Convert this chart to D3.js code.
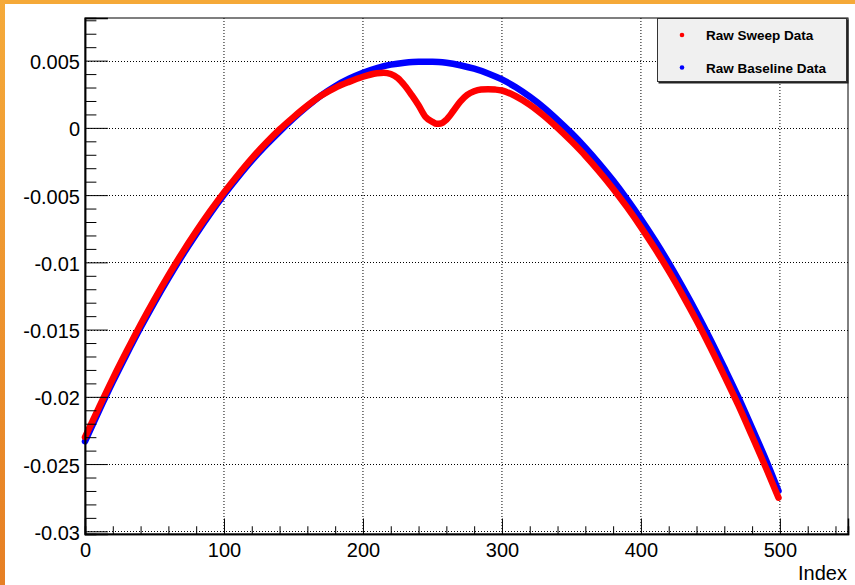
<!DOCTYPE html>
<html>
<head>
<meta charset="utf-8">
<script src="https://cdn.jsdelivr.net/npm/d3@7"></script>
<style>
  html, body { margin: 0; padding: 0; background: #fff; }
  svg { display: block; }
  text { font-family: "Liberation Sans", Arial, Helvetica, sans-serif; }
</style>
</head>
<body>
<svg id="chart" width="855" height="585"></svg>
<script>
// Baseline scan (blue): sample index and signal value
const baselineIndex = [0,10,20,30,40,50,60,70,80,90,100,110,120,130,140,150,160,170,180,190,200,210,220,230,240,250,260,270,280,290,300,310,320,330,340,350,360,370,380,390,400,410,420,430,440,450,460,470,480,490,499];
const baselineValues = [-0.02331,-0.02106,-0.01889,-0.01683,-0.01485,-0.01297,-0.01119,-0.00949,-0.00790,-0.00639,-0.00498,-0.00367,-0.00244,-0.00132,-0.00028,0.00070,0.00160,0.00242,0.00310,0.00365,0.00410,0.00445,0.00470,0.00485,0.00492,0.00492,0.00484,0.00466,0.00440,0.00405,0.00360,0.00302,0.00232,0.00152,0.00060,-0.00039,-0.00147,-0.00265,-0.00392,-0.00530,-0.00678,-0.00836,-0.01004,-0.01184,-0.01373,-0.01573,-0.01784,-0.02001,-0.02233,-0.02469,-0.02700];

// Sweep scan (red): sample index and signal value, with the absorption dip near 250
const sweepIndex = [0,10,20,30,40,50,60,70,80,90,100,110,120,130,140,150,160,170,180,190,200,205,210,215,220,225,230,235,240,245,250,253,256,260,265,270,275,280,285,290,295,300,310,320,330,340,350,360,370,380,390,400,410,420,430,440,450,460,470,480,490,499];
const sweepValues = [-0.02300,-0.02080,-0.01865,-0.01660,-0.01462,-0.01275,-0.01097,-0.00928,-0.00770,-0.00620,-0.00480,-0.00350,-0.00227,-0.00115,-0.00012,0.00080,0.00165,0.00240,0.00298,0.00342,0.00380,0.00395,0.00406,0.00410,0.00400,0.00370,0.00315,0.00245,0.00168,0.00082,0.00045,0.00030,0.00032,0.00060,0.00125,0.00195,0.00245,0.00272,0.00285,0.00288,0.00285,0.00278,0.00235,0.00172,0.00092,0.00000,-0.00100,-0.00207,-0.00325,-0.00452,-0.00590,-0.00738,-0.00896,-0.01064,-0.01244,-0.01433,-0.01633,-0.01844,-0.02060,-0.02293,-0.02529,-0.02750];

// Axis ticks
const xMajorTicks = [0,100,200,300,400,500];
const yMajorTicks = [0.005,0,-0.005,-0.01,-0.015,-0.02,-0.025,-0.03];
const xTitle = "Index";

const legendEntries = [
  { label: "Raw Sweep Data", color: "#ff0000" },
  { label: "Raw Baseline Data", color: "#0000ff" }
];

const svg = d3.select("#chart");

// Canvas frame: orange edge along top and left
const defs = svg.append("defs");
const grad = defs.append("linearGradient").attr("id", "edgeGrad")
  .attr("x1", 0).attr("y1", 0).attr("x2", 0).attr("y2", 1);
grad.append("stop").attr("offset", "0%").attr("stop-color", "#f5aa3a");
grad.append("stop").attr("offset", "100%").attr("stop-color", "#e67f24");
svg.append("rect").attr("x", 0).attr("y", 0).attr("width", 855).attr("height", 4).attr("fill", "#f5a938");
svg.append("rect").attr("x", 0).attr("y", 0).attr("width", 5).attr("height", 585).attr("fill", "url(#edgeGrad)");

const plot = { left: 85, right: 848, top: 18, bottom: 534 };

const x = d3.scaleLinear().domain([0, 549]).range([plot.left, plot.right]);
const y = d3.scaleLinear().domain([-0.0302, 0.00817]).range([plot.bottom, plot.top]);

const fmt = d => String(+d.toFixed(4));

// Dotted grid
const grid = svg.append("g").attr("stroke", "#000").attr("stroke-width", 1)
  .attr("stroke-dasharray", "1,2").attr("fill", "none");
xMajorTicks.filter(t => t > 0).forEach(t => {
  grid.append("line").attr("x1", x(t)).attr("x2", x(t))
    .attr("y1", plot.top).attr("y2", plot.bottom);
});
yMajorTicks.forEach(t => {
  grid.append("line").attr("x1", plot.left).attr("x2", plot.right)
    .attr("y1", Math.round(y(t)) + 0.5).attr("y2", Math.round(y(t)) + 0.5);
});

// Data curves
const lineOf = (idx, vals) => d3.line()
  .x((d, i) => x(idx[i]))
  .y(d => y(d))
  .curve(d3.curveMonotoneX)(vals);

svg.append("path").attr("d", lineOf(baselineIndex, baselineValues))
  .attr("fill", "none").attr("stroke", "#0000ff").attr("stroke-width", 6.5)
  .attr("stroke-linecap", "round").attr("stroke-linejoin", "round");
svg.append("path").attr("d", lineOf(sweepIndex, sweepValues))
  .attr("fill", "none").attr("stroke", "#ff0000").attr("stroke-width", 6.5)
  .attr("stroke-linecap", "round").attr("stroke-linejoin", "round");

// Frame
svg.append("rect").attr("x", plot.left).attr("y", plot.top)
  .attr("width", plot.right - plot.left).attr("height", plot.bottom - plot.top)
  .attr("fill", "none").attr("stroke", "#000").attr("stroke-width", 1);

// Y axis: major and minor ticks pointing inward
const yMinor = d3.range(-30, 9).map(v => v / 1000).filter(v => yMajorTicks.every(t => Math.abs(t - v) > 1e-9));
const yAxisG = svg.append("g").attr("transform", `translate(${plot.left},0)`);
yAxisG.call(d3.axisLeft(y).tickValues(yMajorTicks).tickSize(-22.9).tickPadding(5).tickFormat(fmt));
const yMinorG = svg.append("g").attr("transform", `translate(${plot.left},0)`);
yMinorG.call(d3.axisLeft(y).tickValues(yMinor).tickSize(-11.4).tickFormat(""));

// X axis
const xMinor = d3.range(20, 549, 20).filter(v => v % 100 !== 0);
const xAxisG = svg.append("g").attr("transform", `translate(0,${plot.bottom})`);
xAxisG.call(d3.axisBottom(x).tickValues(xMajorTicks).tickSize(-15.5).tickPadding(9).tickFormat(fmt));
const xMinorG = svg.append("g").attr("transform", `translate(0,${plot.bottom})`);
xMinorG.call(d3.axisBottom(x).tickValues(xMinor).tickSize(-7.75).tickFormat(""));

[yAxisG, yMinorG, xAxisG, xMinorG].forEach(g => {
  g.selectAll(".domain").attr("stroke", "#000").attr("stroke-width", 1.5);
  g.selectAll(".tick line").attr("stroke", "#000").attr("stroke-width", 1);
  g.selectAll("text").attr("fill", "#000").style("font-size", "20px")
    .style("font-family", "'Liberation Sans', Arial, Helvetica, sans-serif");
});
yAxisG.selectAll("text").attr("dy", "0.4em");

svg.append("text").attr("x", plot.right - 1).attr("y", 580)
  .attr("text-anchor", "end").style("font-size", "20px").attr("fill", "#000")
  .text(xTitle);

// Legend
const leg = svg.append("g");
leg.append("rect").attr("x", 658.5).attr("y", 19.5).attr("width", 190).attr("height", 64)
  .attr("fill", "#222");
leg.append("rect").attr("x", 657.5).attr("y", 18.5).attr("width", 189).attr("height", 63)
  .attr("fill", "#f0f0f0").attr("stroke", "#333").attr("stroke-width", 1);
legendEntries.forEach((e, i) => {
  const cy = 35 + i * 32.5;
  leg.append("circle").attr("cx", 682).attr("cy", cy).attr("r", 2.3).attr("fill", e.color);
  leg.append("text").attr("x", 706).attr("y", cy + 5)
    .style("font-size", "13.5px").style("font-weight", "bold").attr("fill", "#000")
    .text(e.label);
});
</script>
</body>
</html>
